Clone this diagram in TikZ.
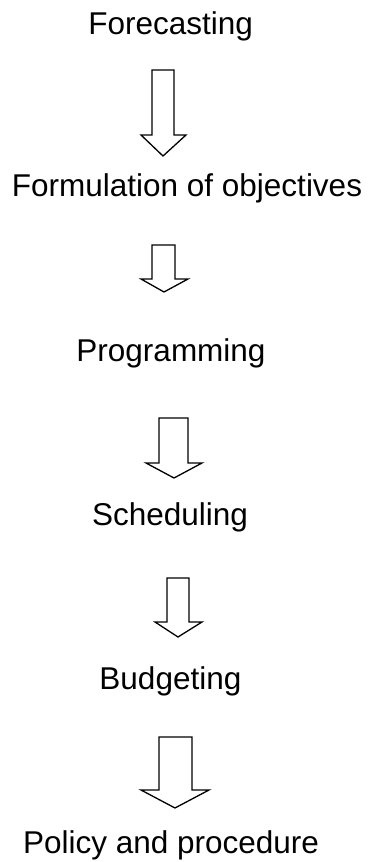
\documentclass[tikz,border=0pt]{standalone}
\usepackage{fontspec}
\setmainfont{Liberation Sans}
\newcommand\blkarrow[8]{% shaft left, shaft right, top, head base, head left, head right, tip x, tip y
  \draw[blockarrow] (#1,#3) -- (#2,#3) -- (#2,#4) -- (#6,#4) -- (#7,#8) -- (#5,#4) -- (#1,#4) -- cycle;}
\begin{document}
\begin{tikzpicture}[x=1pt,y=-1pt,
  lbl/.style={anchor=base,inner sep=0pt,font=\fontsize{31.5}{36}\selectfont},
  blockarrow/.style={draw=black,line width=1.3pt,line join=miter,fill=white}]
\useasboundingbox[fill=white] (0,0) rectangle (368,862);
\node[lbl] (fc) at (170.7,34) {Forecasting};
\node[lbl] (fo) at (187,196) {Formulation of objectives};
\node[lbl] (pr) at (171,361) {Programming};
\node[lbl] (sc) at (170,525) {Scheduling};
\node[lbl] (bu) at (170.4,689) {Budgeting};
\node[lbl] (po) at (171,853) {Policy and procedure};
\blkarrow{152}{174}{70}{135}{141}{186}{163}{156}
\blkarrow{152}{175}{245}{279}{141}{188}{164}{292}
\blkarrow{159}{188}{418}{463}{146}{202}{174}{478}
\blkarrow{167}{189}{578}{622}{155}{202}{178}{637}
\blkarrow{159}{192}{737}{790}{141}{209}{175}{808}
\end{tikzpicture}
\end{document}
